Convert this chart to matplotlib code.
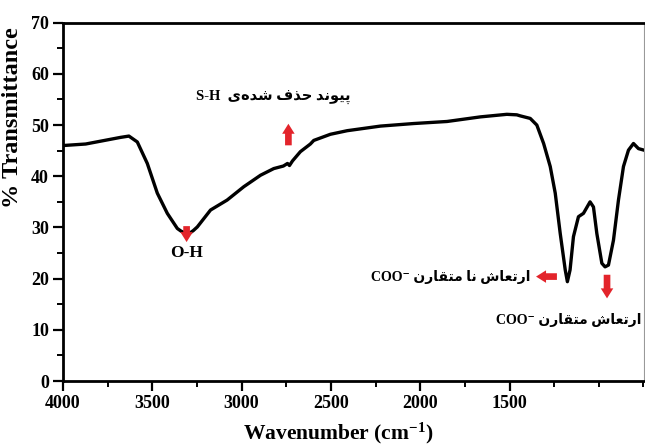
import matplotlib
matplotlib.use("Agg")
import matplotlib.pyplot as plt
from matplotlib.ticker import MultipleLocator

wavenumber = [4000, 3873, 3677, 3631, 3584, 3528, 3472, 3416, 3360, 3340, 3320,
              3304, 3290, 3270, 3248, 3174, 3081, 2988, 2894, 2820, 2766, 2743,
              2732, 2715, 2671, 2615, 2596, 2503, 2409, 2223, 2037, 1850, 1663,
              1515, 1459, 1440, 1384, 1347, 1309, 1272, 1244, 1216, 1188, 1176,
              1161, 1142, 1114, 1086, 1049, 1030, 1011, 983, 965, 946, 918, 890,
              862, 834, 806, 778, 747]
transmittance = [46.0, 46.3, 47.6, 47.85, 46.7, 42.5, 36.7, 32.75, 29.8, 29.3, 28.95,
                 28.8, 28.9, 29.4, 30.1, 33.4, 35.35, 37.95, 40.2, 41.5, 42.0, 42.5,
                 42.1, 43.0, 44.8, 46.3, 47.0, 48.2, 48.9, 49.8, 50.3, 50.7, 51.6,
                 52.1, 52.0, 51.8, 51.3, 50.0, 46.4, 41.9, 36.7, 28.8, 21.7, 19.4,
                 21.7, 28.2, 32.1, 32.75, 35.0, 34.0, 28.8, 23.0, 22.3, 22.65, 27.5,
                 35.35, 41.9, 45.1, 46.4, 45.4, 45.1]

x_ticks = [4000, 3500, 3000, 2500, 2000, 1500]
y_ticks = [0, 10, 20, 30, 40, 50, 60, 70]

label_sh = "پیوند حذف شده\u200cی"
label_asym = "ارتعاش نا متقارن"
label_sym = "ارتعاش متقارن"

C_ROJO = "#E3242B"

# ── Formas de presentación árabe (matplotlib no hace "shaping") ────────────
# (aislada, final, inicial, medial); None = no se une con la siguiente
FORMS = {
    "\u0627": ("\ufe8d", "\ufe8e", None, None),      # ا
    "\u062f": ("\ufea9", "\ufeaa", None, None),      # د
    "\u0630": ("\ufeab", "\ufeac", None, None),      # ذ
    "\u0631": ("\ufead", "\ufeae", None, None),      # ر
    "\u0648": ("\ufeed", "\ufeee", None, None),      # و
    "\u067e": ("\ufb56", "\ufb57", "\ufb58", "\ufb59"),  # پ
    "\u06cc": ("\ufbfc", "\ufbfd", "\ufbfe", "\ufbff"),  # ی
    "\u0646": ("\ufee5", "\ufee6", "\ufee7", "\ufee8"),  # ن
    "\u062d": ("\ufea1", "\ufea2", "\ufea3", "\ufea4"),  # ح
    "\u0641": ("\ufed1", "\ufed2", "\ufed3", "\ufed4"),  # ف
    "\u0634": ("\ufeb5", "\ufeb6", "\ufeb7", "\ufeb8"),  # ش
    "\u0647": ("\ufee9", "\ufeea", "\ufeeb", "\ufeec"),  # ه
    "\u062a": ("\ufe95", "\ufe96", "\ufe97", "\ufe98"),  # ت
    "\u0639": ("\ufec9", "\ufeca", "\ufecb", "\ufecc"),  # ع
    "\u0645": ("\ufee1", "\ufee2", "\ufee3", "\ufee4"),  # م
    "\u0642": ("\ufed5", "\ufed6", "\ufed7", "\ufed8"),  # ق
}


def fa(s):
    out = []
    for i, ch in enumerate(s):
        if ch not in FORMS:
            if ch != "\u200c":
                out.append(ch)
            continue
        prev = s[i - 1] if i > 0 else ""
        nxt = s[i + 1] if i + 1 < len(s) else ""
        jp = prev in FORMS and FORMS[prev][2] is not None
        jn = FORMS[ch][2] is not None and nxt in FORMS
        iso, fin, ini, med = FORMS[ch]
        out.append(med if (jp and jn) else fin if jp else ini if jn else iso)
    return "".join(reversed(out))


# ── Figura ─────────────────────────────────────────────────────────────────
plt.rcParams["font.family"] = ["Liberation Serif", "DejaVu Sans"]
plt.rcParams["font.weight"] = "bold"
plt.rcParams["mathtext.fontset"] = "custom"
plt.rcParams["mathtext.rm"] = "Liberation Serif:bold"
plt.rcParams["mathtext.bf"] = "Liberation Serif:bold"
plt.rcParams["mathtext.it"] = "Liberation Serif:bold:italic"

fig = plt.figure(figsize=(6.45, 4.48), dpi=100)
ax = fig.add_axes([63 / 645, 1 - 381 / 448, 581 / 645, 358.3 / 448])

ax.plot(wavenumber, transmittance, color="black", lw=2.4, solid_joinstyle="round", zorder=3)

ax.set_xlim(4000, 747)
ax.set_ylim(0, 70)
ax.set_xticks(x_ticks)
ax.set_yticks(y_ticks)
ax.xaxis.set_minor_locator(MultipleLocator(250))
ax.yaxis.set_minor_locator(MultipleLocator(5))
ax.tick_params(which="major", direction="out", length=7, width=1.6, labelsize=13, pad=3)
ax.tick_params(which="minor", direction="out", length=4, width=1.4)
ax.tick_params(axis="x", which="both", top=False)
ax.tick_params(axis="y", which="both", right=False)

for s in ["left", "bottom", "top"]:
    ax.spines[s].set_linewidth(2.0)
ax.spines["right"].set_linewidth(0.8)
ax.spines["right"].set_color("#999999")

ax.set_xlabel("Wavenumber (cm$^{-1}$)", fontsize=15.5, fontweight="bold")
ax.xaxis.set_label_coords(0.473, -0.11)
ax.set_ylabel("% Transmittance", fontsize=17.5, fontweight="bold")
ax.yaxis.set_label_coords(-0.068, 0.735)

# Anotaciones
ax.text(3258, 55.5, "S-H  " + fa(label_sh), fontsize=10.5, fontweight="bold",
        ha="left", va="center")
ax.text(3308, 25.0, "O-H", fontsize=12.5, fontweight="bold", ha="center", va="center")
ax.text(1384, 20.4, "COO\u207b " + fa(label_asym), fontsize=10, fontweight="bold",
        ha="right", va="center")
ax.text(763, 11.9, "COO\u207b " + fa(label_sym), fontsize=10, fontweight="bold",
        ha="right", va="center")

arrow = dict(arrowstyle="simple,head_width=0.75,head_length=0.6,tail_width=0.4",
             color=C_ROJO, lw=0, mutation_scale=12)
ax.annotate("", xy=(2738, 50.8), xytext=(2738, 45.5), arrowprops=arrow, zorder=4)
ax.annotate("", xy=(3308, 26.6), xytext=(3308, 30.8), arrowprops=arrow, zorder=4)
ax.annotate("", xy=(1367, 20.4), xytext=(1219, 20.4), arrowprops=arrow, zorder=4)
ax.annotate("", xy=(954, 15.6), xytext=(954, 21.3), arrowprops=arrow, zorder=4)

fig.savefig("out.png", dpi=100, facecolor="white")
